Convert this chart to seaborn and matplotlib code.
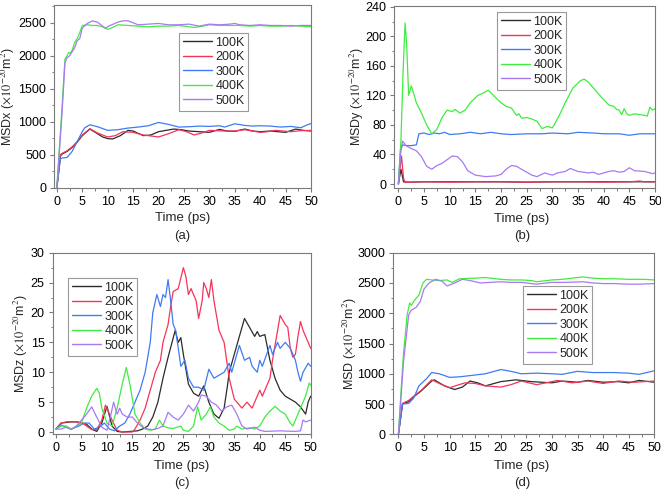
import numpy as np
import pandas as pd
import matplotlib
matplotlib.use("Agg")
import matplotlib.pyplot as plt
from matplotlib.ticker import AutoMinorLocator
import seaborn as sns

temps = ["100K", "200K", "300K", "400K", "500K"]
colors = ["#2b2b2b", "#f5345a", "#3f7bf2", "#40ec40", "#a77af2"]

# ---------------- (a) MSDx ----------------
a100_t = [0, 0.7, 1, 2, 3, 4, 5, 6.5, 8, 9, 10, 11, 12.5, 14, 15, 17, 18.5, 20, 21.5, 23, 24.5, 26, 28, 30, 32, 33.5, 35, 37, 38.5, 40, 42, 43.5, 45, 47, 48.5, 50]
a100_v = [0, 480, 510, 550, 610, 690, 790, 890, 820, 770, 745, 740, 790, 870, 860, 790, 800, 850, 870, 890, 880, 860, 850, 840, 885, 860, 855, 890, 860, 850, 860, 850, 840, 890, 870, 860]
a200_t = [0, 0.7, 1, 2, 3, 4, 5, 6.5, 8, 10, 11.5, 13, 15, 17, 18.5, 20, 22, 24, 25.5, 27, 28.5, 30, 31.5, 33, 35, 37, 38.5, 40, 41.5, 43, 44.5, 46, 48, 50]
a200_v = [0, 500, 520, 560, 620, 700, 800, 895, 830, 770, 790, 850, 840, 800, 785, 770, 820, 880, 850, 800, 830, 870, 865, 860, 860, 880, 860, 840, 850, 870, 860, 850, 865, 870]
a300_t = [0, 0.7, 1, 2, 3, 4, 5, 5.5, 6.5, 8, 10, 12, 14, 16, 18, 20, 22, 24, 26, 28, 30, 32, 33, 35, 37, 38.5, 40, 42, 44, 46, 48, 49, 50]
a300_v = [0, 440, 450, 460, 550, 700, 850, 910, 955, 925, 870, 880, 905, 920, 940, 990, 960, 920, 925, 935, 930, 940, 920, 970, 945, 935, 940, 935, 920, 930, 910, 945, 975]
a400_t = [0, 0.5, 1, 1.6, 2.0, 2.3, 2.6, 3, 3.5, 4, 4.5, 5, 6, 7, 8, 9, 10, 11, 12, 14, 16, 18, 20, 22, 24, 26, 27, 28, 30, 32, 34, 36, 38, 40, 42, 44, 46, 48, 50]
a400_v = [0, 600, 1200, 1950, 2000, 2050, 2040, 2080, 2200, 2260, 2350, 2460, 2470, 2460, 2460, 2440, 2400, 2430, 2470, 2460, 2450, 2440, 2450, 2450, 2460, 2440, 2430, 2440, 2470, 2460, 2460, 2460, 2450, 2460, 2450, 2450, 2460, 2450, 2440]
a500_t = [0, 0.5, 1, 1.6, 2, 2.5, 3, 3.5, 4, 4.5, 5, 6, 7, 8, 9, 9.5, 10.5, 12, 13, 14, 15, 16, 18, 20, 22, 24, 26, 28, 30, 32, 34, 35, 36, 38, 40, 42, 44, 46, 48, 50]
a500_v = [0, 550, 1100, 1900, 1970, 2000, 2060, 2120, 2230, 2260, 2420, 2490, 2530, 2510, 2450, 2420, 2460, 2510, 2530, 2530, 2500, 2470, 2480, 2490, 2470, 2470, 2480, 2450, 2480, 2470, 2480, 2490, 2470, 2460, 2470, 2460, 2460, 2450, 2460, 2460]
a_yticks = [0, 500, 1000, 1500, 2000, 2500]

# ---------------- (b) MSDy ----------------
b100_t = [0, 0.5, 1, 2, 5, 10, 15, 20, 25, 30, 35, 40, 45, 50]
b100_v = [0, 20, 3, 2.5, 3, 3, 3, 3, 2.5, 3, 3, 3, 3, 3]
b200_t = [0, 0.3, 0.6, 1.0, 1.3, 2, 5, 10, 15, 20, 25, 30, 35, 40, 45, 47, 48, 50]
b200_v = [0, 20, 38, 8, 2, 2.5, 3, 2.5, 3, 3, 2.5, 3, 3, 2.5, 3, 4, 3, 3]
b300_t = [0, 0.4, 0.8, 1.5, 2.5, 3.5, 4.0, 5, 6, 7, 8, 9, 10, 12, 14, 16, 18, 20, 22, 25, 28, 30, 33, 35, 38, 40, 43, 45, 47, 50]
b300_v = [0, 45, 53, 52, 52, 53, 68, 69, 67, 69, 68, 70, 67, 68, 70, 68, 70, 68, 67, 68, 68, 69, 68, 70, 69, 68, 68, 66, 68, 68]
b400_t = [0, 0.5, 0.9, 1.3, 1.6, 2.0, 2.5, 3, 3.5, 4.5, 5.5, 6.5, 7.5, 8.5, 9.5, 10.5, 11, 12, 13, 14, 15.5, 16.5, 17.5, 18.5, 20, 21, 22, 23, 23.5, 24, 25, 26, 27, 28, 29, 30, 30.5, 31.5, 32.5, 34, 35.5, 36.2, 37, 38, 39.5, 41, 42, 42.5, 43, 43.5, 44, 44.5, 45, 46, 47, 48, 48.5, 49, 49.5, 50]
b400_v = [0, 60, 150, 218, 190, 120, 133, 122, 110, 96, 80, 68, 74, 90, 100, 98, 101, 96, 100, 110, 120, 123, 127, 120, 110, 105, 103, 93, 95, 89, 90, 88, 85, 75, 78, 76, 82, 95, 110, 130, 140, 142, 138, 130, 118, 107, 105, 101, 100, 94, 102, 95, 93, 95, 94, 93, 92, 104, 100, 102]
b500_t = [0, 0.4, 0.8, 1.5, 2.5, 3.5, 4.5, 5.5, 6.5, 7.5, 8.5, 9.5, 10.5, 11.5, 12.5, 13.5, 15, 17, 19, 20, 21, 22, 23, 24.5, 26, 27, 28.5, 30, 31, 32.5, 33.5, 35, 37, 38, 39, 40, 41, 42, 43, 44, 45, 46, 48, 49.5, 50]
b500_v = [0, 40, 58, 52, 48, 45, 37, 24, 20, 25, 28, 33, 38, 37, 30, 18, 12, 10, 11, 13, 20, 25, 24, 18, 12, 10, 15, 12, 15, 17, 21, 17, 15, 16, 13, 15, 17, 18, 16, 17, 22, 18, 17, 14, 15]
b_yticks = [0, 40, 80, 120, 160, 200, 240]

# ---------------- (c) MSDz ----------------
c100_t = [0, 1, 2, 3, 4, 5, 6, 7, 8, 9, 10, 11, 12, 13, 16, 17, 18, 19, 20, 21, 22, 23.4, 24, 24.5, 25, 26, 27, 28, 29, 30, 31, 32, 33, 33.7, 34, 35, 36, 37, 38, 39, 39.5, 40, 41, 42, 43, 44, 45, 46, 47, 48, 49, 49.5, 50]
c100_v = [0.5, 1.5, 1.6, 1.7, 1.7, 1.5, 1.3, 0.5, 0.1, 1.5, 4.3, 1.0, 0.1, 0, 0.2, 0.5, 1.0, 2.5, 5, 9, 12.5, 17, 15, 15.8, 13, 8, 6.5, 6, 7.7, 5, 3, 2.3, 4, 8, 10, 13, 16, 19, 17.5, 16, 16.8, 16, 16.3, 12, 9, 7, 6, 5.5, 5, 4.2, 3, 5, 6]
c200_t = [0, 1, 2, 3, 4, 5, 6, 7, 8, 9, 9.7, 10.5, 11, 12, 13, 15, 15.5, 16.5, 17.5, 18.5, 19.5, 20.5, 21, 22, 22.5, 23, 24, 25, 25.5, 26, 26.5, 27.5, 28, 28.7, 29, 29.5, 30, 30.5, 31, 32, 33, 34, 35, 35.5, 36.5, 37.5, 38.5, 40, 40.5, 41.5, 42, 42.5, 43.5, 44, 45, 45.5, 46, 46.5, 47, 47.5, 48, 48.5, 49, 50]
c200_v = [0.5, 1.5, 1.7, 1.7, 1.7, 1.6, 1.0, 0.4, 0.4, 2.0, 4.5, 3, 2.0, 0.3, 0, 0, 0.5, 2, 4, 7, 10, 12, 15, 18, 21, 23.5, 24, 27.5, 26, 23, 24, 22, 19, 22, 25, 24, 22.5, 25.5, 22, 17, 15, 9, 5.5, 5, 4, 5, 4, 7, 6, 8, 9, 12, 17, 19.5, 18, 17.5, 14, 12.5, 13, 16, 18.5, 17, 16, 14]
c300_t = [0, 1, 2, 3, 4.5, 5.5, 6.5, 7.5, 8.5, 9.5, 10.5, 11.5, 12.5, 13.5, 14.5, 15.5, 16.5, 17.5, 18.5, 19, 19.8, 20.5, 21, 21.5, 22, 22.5, 23, 23.5, 24, 24.5, 25.3, 26, 27, 28, 29, 30, 31, 32, 33, 34, 34.5, 35.5, 36, 37, 38, 38.5, 39.5, 40, 40.5, 42, 42.5, 43.5, 44, 45, 46, 47, 47.5, 48, 48.5, 49.5, 50]
c300_v = [0.5, 1.2, 0.8, 0.5, 1.0, 1.5, 1.5, 0.5, 0.8, 1.5, 0.5, 0.2, 1.0, 1.5, 3, 5, 7, 10, 15, 20, 23, 21, 23, 22.5, 25.5, 22, 18, 17, 14, 11, 12, 9, 7.5, 7.5, 7, 10.5, 9, 9.5, 10, 11.5, 10, 13, 14.5, 12, 12.5, 11, 10, 12, 11, 14.5, 13, 15, 14, 15, 14, 12, 10, 8.5, 10, 11.5, 11]
c400_t = [0, 1, 2, 3, 4, 5, 6, 7, 8, 8.5, 9, 10, 11, 12, 13, 13.8, 14.5, 15.5, 16.5, 17.5, 18.5, 19.5, 20.3, 21, 22, 23, 24.5, 25, 26, 27, 27.8, 28.5, 29.5, 30.3, 31, 32, 33, 34, 35, 35.5, 36.5, 38, 39, 40, 41, 42, 43, 44, 45, 46, 46.5, 47, 48, 49, 49.7, 50]
c400_v = [0.5, 1.0, 1.0, 0.5, 1.0, 1.5, 4, 6, 7.3, 6.5, 4, 1.5, 1.0, 4, 8, 10.8, 8, 3, 1.5, 0.5, 0.3, 0.5, 2, 1.0, 0.7, 0.6, 1.0, 0.3, 0.1, 1.0, 4.2, 2, 3, 4.2, 2.5, 1.5, 1.0, 0.3, 0.5, 1.0, 0.5, 0.7, 0.5, 1.0, 2.5, 3.5, 4.3, 3.5, 3, 1.5, 1.0, 2, 4, 6, 8.2, 7.8]
c500_t = [0, 1, 2, 3, 4, 5, 6, 7, 8, 9, 10, 10.8, 11.3, 12, 12.5, 13, 14, 15, 16, 17, 18, 19, 20, 21, 22, 23, 24, 25, 26, 27, 28, 28.5, 29.5, 30.5, 31.5, 32.5, 33.5, 34.5, 35.5, 36.5, 37.5, 39, 40, 41, 44, 47, 48, 48.5, 49, 50]
c500_v = [0.5, 0.5, 0.8, 0.4, 1.0, 2, 3, 4.2, 2.5, 0.8, 0.3, 3, 5, 3, 4, 3, 2.5, 2.5, 1.5, 0.8, 0.5, 0.4, 0.6, 1.0, 3.3, 2.5, 2, 3, 4.5, 3.5, 5, 6.2, 6, 5, 4.5, 3.5, 4.2, 4.5, 3, 1.0, 0.5, 0.8, 0.3, 0.1, 0.2, 0.1, 0.2, 2, 1.7, 2]
c_yticks = [0, 5, 10, 15, 20, 25, 30]

# ---------------- (d) MSD ----------------
d100_t = [0, 0.8, 2, 3, 4.5, 6.5, 7, 9, 11, 12.5, 14, 15.5, 17, 20, 23, 26, 28, 30, 32, 35, 37, 40, 43, 45, 47, 50]
d100_v = [0, 500, 540, 620, 720, 880, 900, 800, 740, 780, 880, 850, 800, 870, 900, 870, 860, 850, 880, 860, 890, 860, 870, 850, 890, 860]
d200_t = [0, 0.8, 2, 3, 4.5, 6.5, 8.5, 10, 13, 15, 17, 20, 22, 24, 27, 30, 31, 34, 37, 40, 43, 46, 50]
d200_v = [0, 510, 560, 630, 730, 900, 820, 770, 850, 840, 800, 780, 820, 880, 820, 870, 890, 850, 880, 840, 880, 860, 880]
d300_t = [0, 0.8, 2, 3, 4, 5.5, 6.5, 8, 10, 12, 15, 17, 20, 22, 24, 27, 30, 32, 35, 38, 42, 45, 47, 50]
d300_v = [0, 500, 510, 600, 800, 920, 1020, 1000, 940, 950, 980, 1000, 1070, 1040, 1000, 1010, 1000, 990, 1040, 1020, 1020, 1010, 990, 1050]
d400_t = [0, 0.5, 1, 1.7, 2.2, 2.5, 3, 4, 4.8, 5.5, 6.5, 8, 9.5, 10.5, 12, 15, 17, 20, 22, 24, 26, 27, 28, 30, 32, 34, 36, 38, 40, 42, 45, 48, 50]
d400_v = [0, 700, 1340, 1970, 2170, 2130, 2200, 2300, 2500, 2560, 2550, 2540, 2550, 2510, 2570, 2580, 2590, 2560, 2550, 2550, 2540, 2520, 2530, 2550, 2560, 2580, 2600, 2580, 2570, 2570, 2560, 2560, 2550]
d500_t = [0, 0.5, 1, 2, 2.5, 3.5, 4.3, 5, 6, 7.3, 8.5, 9.5, 11, 12.5, 14, 16, 18, 20, 22, 24, 27, 30, 33, 36, 38, 40, 42, 45, 47, 50]
d500_v = [0, 600, 1200, 1970, 2050, 2100, 2200, 2400, 2500, 2560, 2530, 2450, 2500, 2560, 2540, 2500, 2510, 2520, 2510, 2510, 2480, 2510, 2510, 2520, 2500, 2490, 2490, 2480, 2480, 2490]
d_yticks = [0, 500, 1000, 1500, 2000, 2500, 3000]

x_ticks = [0, 5, 10, 15, 20, 25, 30, 35, 40, 45, 50]

sns.set_style("ticks")
plt.rcParams["font.family"] = ["Liberation Sans", "DejaVu Sans"]
plt.rcParams["mathtext.fontset"] = "stix"

W, H = 661, 493
fig = plt.figure(figsize=(W / 100, H / 100), dpi=100)


def frame(series):
    parts = []
    for name, (tt, vv) in zip(temps, series):
        parts.append(pd.DataFrame({"Time": tt, "MSD": vv, "T": name}))
    return pd.concat(parts, ignore_index=True)


panels = [
    dict(box=(54.3, 5, 311, 188.3), data=[(a100_t, a100_v), (a200_t, a200_v), (a300_t, a300_v), (a400_t, a400_v), (a500_t, a500_v)],
         xlim=(-0.5, 50), ylim=(-8, 2770), yticks=a_yticks, ylab="MSDx", leg=(179, 33),
         xl=(182.5, 218), tag="(a)", tagy=236, ylx=8.0),
    dict(box=(394.3, 6, 655, 188), data=[(b100_t, b100_v), (b200_t, b200_v), (b300_t, b300_v), (b400_t, b400_v), (b500_t, b500_v)],
         xlim=(-0.8, 50), ylim=(-5.4, 241), yticks=b_yticks, ylab="MSDy", leg=(497, 12),
         xl=(522, 219), tag="(b)", tagy=236, ylx=357.0),
    dict(box=(52.7, 252.7, 310.7, 434), data=[(c100_t, c100_v), (c200_t, c200_v), (c300_t, c300_v), (c400_t, c400_v), (c500_t, c500_v)],
         xlim=(-0.65, 50), ylim=(-0.33, 30), yticks=c_yticks, ylab="MSDz", leg=(68, 278),
         xl=(182, 466), tag="(c)", tagy=483, ylx=20.5),
    dict(box=(393.3, 252.7, 654.3, 434.3), data=[(d100_t, d100_v), (d200_t, d200_v), (d300_t, d300_v), (d400_t, d400_v), (d500_t, d500_v)],
         xlim=(-1.0, 50), ylim=(0, 3000), yticks=d_yticks, ylab="MSD", leg=(523, 286),
         xl=(522, 466), tag="(d)", tagy=483, ylx=349.5),
]

spine_c = "#7a7a7a"
for p in panels:
    l, t, r, b = p["box"]
    ax = fig.add_axes([l / W, 1 - b / H, (r - l) / W, (b - t) / H])
    df = frame(p["data"])
    sns.lineplot(data=df, x="Time", y="MSD", hue="T", hue_order=temps,
                 palette=dict(zip(temps, colors)), estimator=None, sort=True,
                 linewidth=0.9, ax=ax, legend=True)
    ax.set_xlim(*p["xlim"])
    ax.set_ylim(*p["ylim"])
    ax.set_xticks(x_ticks)
    ax.set_yticks(p["yticks"])
    ax.xaxis.set_minor_locator(AutoMinorLocator(2))
    ax.yaxis.set_minor_locator(AutoMinorLocator(2))
    ax.tick_params(which="major", direction="out", length=3, width=0.8, pad=2.8,
                   labelsize=9, colors=spine_c, labelcolor="black")
    ax.tick_params(which="minor", direction="out", length=1.8, width=0.7, colors=spine_c)
    for s in ax.spines.values():
        s.set_visible(True)
        s.set_color(spine_c)
        s.set_linewidth(0.8)
    ax.set_xlabel("")
    ax.set_ylabel("")
    fig.text(p["xl"][0] / W, 1 - p["xl"][1] / H, "Time (ps)", ha="center", va="center", fontsize=9.5)
    fig.text(p["xl"][0] / W, 1 - p["tagy"] / H, p["tag"], ha="center", va="center", fontsize=9.5)
    ymid = (t + b) / 2
    fig.text(p["ylx"] / W, 1 - ymid / H, p["ylab"] + r" ($\times10^{-20}$m$^{2}$)",
             rotation=90, ha="center", va="center", fontsize=9)

    old = ax.get_legend()
    handles = old.legend_handles
    labels = [tx.get_text() for tx in old.get_texts()]
    old.remove()
    for h in handles:
        h.set_linewidth(1.0)
    lg = ax.legend(handles, labels, loc="upper left",
                   bbox_to_anchor=(p["leg"][0] / W, 1 - p["leg"][1] / H),
                   bbox_transform=fig.transFigure, frameon=True, fancybox=False,
                   edgecolor="#9a9a9a", framealpha=1, fontsize=9,
                   handlelength=2.3, handletextpad=0.3, labelspacing=0.2,
                   borderpad=0.3, borderaxespad=0)
    lg.get_frame().set_linewidth(0.8)

fig.savefig("out.png", dpi=100)
